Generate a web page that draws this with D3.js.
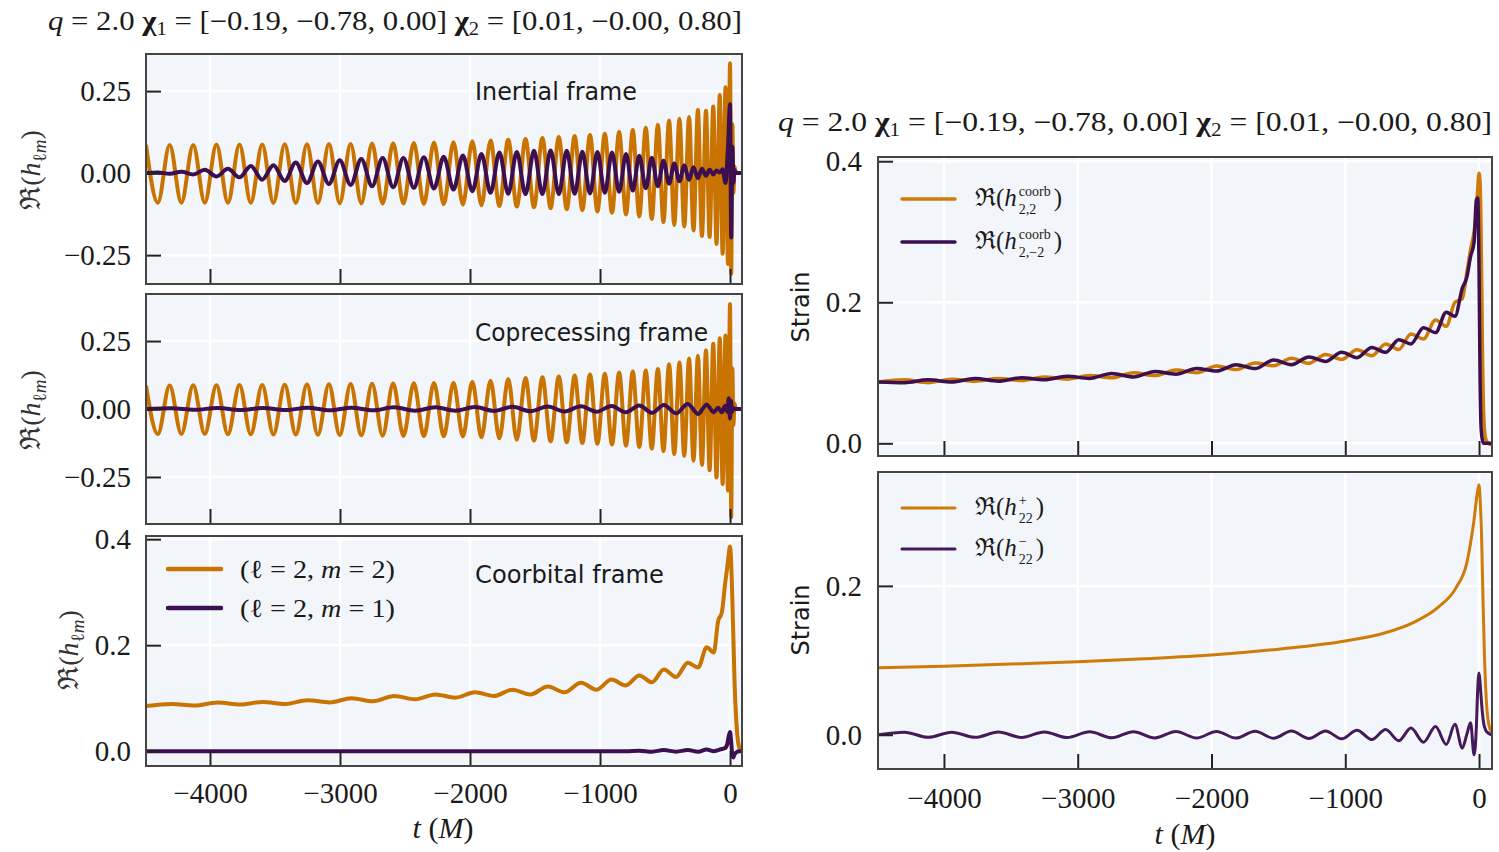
<!DOCTYPE html>
<meta charset="utf-8">
<style>
body { margin: 0; background: #fff; }
svg text { fill: #1a1a1a; }
.serif { font-family: "Liberation Serif", "DejaVu Serif", serif; }
.sans { font-family: "DejaVu Sans", sans-serif; }
.axis text { font-family: "Liberation Serif", "DejaVu Serif", serif; font-size: 29px; fill: #1a1a1a; }
.axis line { stroke: #222; stroke-width: 2px; }
.axis path { display: none; }
</style>
<body>
<script src="https://cdn.jsdelivr.net/npm/d3@7/dist/d3.min.js"></script>
<script>

// ---------- data ----------
var q = "2.0";
var chi1 = ["\u22120.19", "\u22120.78", "0.00"];
var chi2 = ["0.01", "\u22120.00", "0.80"];
var xTicks = [-4000, -3000, -2000, -1000, 0];

// times (M) of the extrema of the (2,2) oscillation, inertial / coprecessing frames
var tGW = [-4492, -4401, -4310, -4220, -4129, -4040, -3950, -3862, -3773, -3686,
           -3598, -3512, -3425, -3340, -3254, -3170, -3085, -3002, -2918, -2836,
           -2753, -2672, -2591, -2512, -2432, -2355, -2277, -2202, -2127, -2055,
           -1982, -1912, -1842, -1774, -1706, -1640, -1573, -1508, -1443, -1380,
           -1317, -1256, -1195, -1136, -1077, -1020, -963, -908, -853, -800,
           -748, -698, -648, -602, -555, -512, -469, -429, -389, -352,
           -315, -281, -247, -216, -185, -157, -129, -104, -79, -57,
           -35, -16, 0, 9, 18, 26, 34, 45, 60, 92];

var inertial22 = [0.086, -0.090, 0.086, -0.090, 0.086, -0.090, 0.087, -0.090, 0.087, -0.090,
                  0.087, -0.091, 0.088, -0.091, 0.088, -0.091, 0.089, -0.092, 0.089, -0.092,
                  0.090, -0.093, 0.091, -0.093, 0.092, -0.094, 0.093, -0.095, 0.094, -0.096,
                  0.097, -0.098, 0.099, -0.100, 0.102, -0.102, 0.104, -0.104, 0.107, -0.107,
                  0.110, -0.110, 0.113, -0.113, 0.116, -0.117, 0.120, -0.121, 0.125, -0.126,
                  0.131, -0.132, 0.138, -0.140, 0.147, -0.150, 0.160, -0.158, 0.166, -0.163,
                  0.171, -0.175, 0.192, -0.192, 0.190, -0.195, 0.203, -0.216, 0.238, -0.246,
                  0.262, -0.277, 0.335, -0.307, 0.150, -0.060, 0.020, 0.000, 0.000, 0.000];

var inertial21 = [0.000, 0.002, -0.002, 0.004, -0.004, 0.010, -0.010, 0.013, -0.013, 0.022,
                  -0.020, 0.024, -0.024, 0.032, -0.030, 0.035, -0.033, 0.039, -0.036, 0.043,
                  -0.040, 0.046, -0.043, 0.046, -0.045, 0.048, -0.047, 0.050, -0.050, 0.054,
                  -0.055, 0.058, -0.060, 0.063, -0.063, 0.064, -0.064, 0.068, -0.064, 0.069,
                  -0.064, 0.068, -0.063, 0.065, -0.062, 0.064, -0.060, 0.063, -0.057, 0.058,
                  -0.053, 0.053, -0.046, 0.047, -0.040, 0.038, -0.032, 0.029, -0.025, 0.023,
                  -0.020, 0.018, -0.015, 0.013, -0.008, 0.010, -0.004, 0.008, 0.002, 0.012,
                  -0.030, 0.080, 0.210, -0.196, 0.080, -0.030, 0.010, 0.000, 0.000, 0.000];

var copre22 = [0.086, -0.092, 0.086, -0.092, 0.087, -0.092, 0.087, -0.093, 0.088, -0.093,
               0.088, -0.094, 0.089, -0.094, 0.090, -0.095, 0.091, -0.096, 0.092, -0.097,
               0.093, -0.098, 0.094, -0.099, 0.095, -0.100, 0.096, -0.100, 0.097, -0.101,
               0.100, -0.104, 0.104, -0.108, 0.110, -0.113, 0.114, -0.116, 0.117, -0.119,
               0.120, -0.122, 0.123, -0.125, 0.127, -0.128, 0.130, -0.131, 0.134, -0.135,
               0.138, -0.140, 0.142, -0.146, 0.147, -0.155, 0.165, -0.166, 0.171, -0.172,
               0.186, -0.190, 0.196, -0.205, 0.215, -0.225, 0.240, -0.252, 0.260, -0.276,
               0.270, -0.300, 0.386, -0.398, 0.150, -0.060, 0.020, 0.000, 0.000, 0.000];

// times (M) of the slow (orbital) wiggles, and of the merger / ringdown samples
var tWig = [-4492, -4295, -4118, -3942, -3767, -3593, -3420, -3249, -3079, -2911,
            -2746, -2583, -2423, -2266, -2112, -1962, -1816, -1674, -1536, -1402,
            -1272, -1147, -1027, -912, -802, -698, -600, -509, -415, -325,
            -245, -180, -125];
var tTail = [-92, -63, -37, -20, -10, 0, 8, 16, 25, 35, 50, 70, 95];

var copre21 = [0.000, 0.003, -0.003, 0.004, -0.004, 0.004, -0.004, 0.005, -0.005, 0.005,
               -0.005, 0.006, -0.006, 0.006, -0.006, 0.007, -0.007, 0.008, -0.008, 0.009,
               -0.009, 0.010, -0.010, 0.011, -0.012, 0.013, -0.014, 0.015, -0.016, 0.018,
               -0.018, 0.016, -0.012];
var copre21Tail = [0.005, -0.012, 0.012, -0.010, 0.040, -0.035, 0.030, -0.010, 0.004, 0.000, 0.000, 0.000, 0.000];

var coorb22 = [0.085, 0.089, 0.086, 0.092, 0.088, 0.093, 0.089, 0.096, 0.092, 0.100,
               0.094, 0.104, 0.098, 0.107, 0.101, 0.111, 0.104, 0.116, 0.107, 0.122,
               0.111, 0.129, 0.116, 0.135, 0.124, 0.143, 0.130, 0.154, 0.140, 0.167,
               0.158, 0.196, 0.186];
var coorb22Tail = [0.245, 0.262, 0.318, 0.350, 0.372, 0.386, 0.360, 0.300, 0.220, 0.130, 0.050, 0.008, 0.000];

var coorb21 = [0.000, 0.000, 0.000, 0.000, 0.000, 0.000, 0.000, 0.000, 0.000, 0.000,
               0.000, 0.000, 0.000, 0.000, 0.000, 0.000, 0.000, 0.000, 0.000, 0.000,
               0.000, 0.000, 0.000, 0.000, 0.000, 0.001, -0.001, 0.002, -0.001, 0.002,
               -0.001, 0.003, 0.000];
var coorb21Tail = [0.002, 0.004, 0.006, 0.015, 0.028, 0.036, 0.020, -0.005, -0.012, -0.006, -0.002, 0.000, 0.000];

var hc22 = [0.087, 0.090, 0.086, 0.091, 0.088, 0.092, 0.089, 0.094, 0.091, 0.096,
            0.093, 0.100, 0.096, 0.104, 0.100, 0.1095, 0.1045, 0.114, 0.110, 0.1205,
            0.1135, 0.126, 0.119, 0.1325, 0.124, 0.141, 0.133, 0.155, 0.148, 0.175,
            0.166, 0.200, 0.205];
var hc22Tail = [0.241, 0.275, 0.300, 0.330, 0.360, 0.383, 0.370, 0.290, 0.140, 0.040, 0.006, 0.000, -0.002];

var hc2m2 = [0.087, 0.086, 0.090, 0.087, 0.092, 0.088, 0.093, 0.090, 0.095, 0.092,
             0.099, 0.094, 0.102, 0.098, 0.106, 0.1025, 0.1115, 0.106, 0.118, 0.1115,
             0.1225, 0.116, 0.129, 0.1215, 0.136, 0.129, 0.147, 0.141, 0.164, 0.157,
             0.186, 0.180, 0.220];
var hc2m2Tail = [0.235, 0.265, 0.285, 0.345, 0.348, 0.250, 0.090, 0.020, 0.005, 0.000, 0.000, 0.000, 0.000];

var tPlus = [-4492, -4000, -3500, -3000, -2500, -2000, -1500, -1000, -700, -500, -300, -170,
             -90, -40, -10, 0, 10, 20, 30, 40, 55, 75, 95];
var hPlus = [0.090, 0.092, 0.095, 0.098, 0.102, 0.107, 0.115, 0.126, 0.137, 0.150, 0.172, 0.198,
             0.232, 0.285, 0.328, 0.336, 0.310, 0.260, 0.180, 0.110, 0.045, 0.012, 0.003];

var hMinus = [0.000, 0.0035, -0.0035, 0.0035, -0.0035, 0.0036, -0.0036, 0.0038, -0.0038, 0.004,
              -0.004, 0.0042, -0.0042, 0.0044, -0.0044, 0.0045, -0.0045, 0.0047, -0.0047, 0.005,
              -0.005, 0.0052, -0.0055, 0.006, -0.0065, 0.007, -0.008, 0.009, -0.010, 0.011,
              -0.013, 0.014, -0.018];
var hMinusTail = [0.000, 0.016, -0.027, 0.010, 0.060, 0.083, 0.070, 0.050, 0.030, 0.015, 0.006, 0.002, 0.000];

// ---------- drawing ----------
var orange = "#c97300", purple = "#3b0f50";

function zip(ts, vs) { return ts.map(function(t, i) { return [t, vs[i]]; }); }

var svg = d3.select("body").append("svg").attr("width", 1499).attr("height", 852);

var fmt2 = function(d) { return (d < 0 ? "\u2212" : "") + Math.abs(d).toFixed(2); };
var fmt1 = function(d) { return (d < 0 ? "\u2212" : "") + Math.abs(d).toFixed(1); };
var fmtX = function(d) { return (d < 0 ? "\u2212" : "") + Math.abs(d); };

var nClip = 0;
function panel(p) {
  var x = d3.scaleLinear().domain(p.xd).range([p.x0, p.x1]);
  var y = d3.scaleLinear().domain(p.yd).range([p.y1, p.y0]);
  var g = svg.append("g");

  g.append("rect")
      .attr("x", p.x0).attr("y", p.y0)
      .attr("width", p.x1 - p.x0).attr("height", p.y1 - p.y0)
      .attr("fill", "#f2f6fb");

  // white grid
  g.selectAll(null).data(xTicks).enter().append("line")
      .attr("x1", function(d) { return x(d); }).attr("x2", function(d) { return x(d); })
      .attr("y1", p.y0).attr("y2", p.y1)
      .attr("stroke", "#fff").attr("stroke-width", 2.5);
  g.selectAll(null).data(p.yt).enter().append("line")
      .attr("y1", function(d) { return y(d); }).attr("y2", function(d) { return y(d); })
      .attr("x1", p.x0).attr("x2", p.x1)
      .attr("stroke", "#fff").attr("stroke-width", 2.5);

  var id = "clip" + (nClip++);
  svg.append("clipPath").attr("id", id).append("rect")
      .attr("x", p.x0).attr("y", p.y0)
      .attr("width", p.x1 - p.x0).attr("height", p.y1 - p.y0);

  var line = d3.line()
      .x(function(d) { return x(d[0]); })
      .y(function(d) { return y(d[1]); })
      .curve(d3.curveMonotoneX);

  p.series.forEach(function(s) {
    g.append("path")
        .datum(s.pts)
        .attr("clip-path", "url(#" + id + ")")
        .attr("fill", "none")
        .attr("stroke", s.color)
        .attr("stroke-width", s.w)
        .attr("stroke-linejoin", "round")
        .attr("d", line);
  });

  // axes, ticks pointing inwards
  g.append("g")
      .attr("class", "axis")
      .attr("transform", "translate(0," + p.y1 + ")")
      .call(d3.axisBottom(x).tickValues(xTicks).tickSize(-15).tickPadding(p.xpad)
            .tickFormat(p.xlab ? fmtX : function() { return ""; }));
  g.append("g")
      .attr("class", "axis")
      .attr("transform", "translate(" + p.x0 + ",0)")
      .call(d3.axisLeft(y).tickValues(p.yt).tickSize(-15).tickPadding(p.ypad).tickFormat(p.yfmt));

  g.append("rect")
      .attr("x", p.x0).attr("y", p.y0)
      .attr("width", p.x1 - p.x0).attr("height", p.y1 - p.y0)
      .attr("fill", "none").attr("stroke", "#444").attr("stroke-width", 2);
  return { x: x, y: y };
}

var L = { x0: 146, x1: 742, xd: [-4492, 92], xpad: 16, ypad: 15 };
var R = { x0: 878, x1: 1492, xd: [-4493, 97], xpad: 18, ypad: 16 };

panel(Object.assign({}, L, {
  y0: 54, y1: 284, yd: [-0.338, 0.363], yt: [-0.25, 0, 0.25], yfmt: fmt2, xlab: false,
  series: [
    { pts: zip(tGW, inertial22), color: orange, w: 4 },
    { pts: zip(tGW, inertial21), color: purple, w: 4 }
  ]
}));

panel(Object.assign({}, L, {
  y0: 294, y1: 524, yd: [-0.423, 0.423], yt: [-0.25, 0, 0.25], yfmt: fmt2, xlab: false,
  series: [
    { pts: zip(tGW, copre22), color: orange, w: 4 },
    { pts: zip(tWig, copre21).concat(zip(tTail, copre21Tail)), color: purple, w: 4 }
  ]
}));

panel(Object.assign({}, L, {
  y0: 536, y1: 766, yd: [-0.028, 0.406], yt: [0, 0.2, 0.4], yfmt: fmt1, xlab: true,
  series: [
    { pts: zip(tWig, coorb22).concat(zip(tTail, coorb22Tail)), color: orange, w: 4 },
    { pts: zip(tWig, coorb21).concat(zip(tTail, coorb21Tail)), color: purple, w: 4 }
  ]
}));

panel(Object.assign({}, R, {
  y0: 157, y1: 456, yd: [-0.018, 0.406], yt: [0, 0.2, 0.4], yfmt: fmt1, xlab: false,
  series: [
    { pts: zip(tWig, hc22).concat(zip(tTail, hc22Tail)), color: "#cf7b08", w: 3.5 },
    { pts: zip(tWig, hc2m2).concat(zip(tTail, hc2m2Tail)), color: purple, w: 3.5 }
  ]
}));

panel(Object.assign({}, R, {
  y0: 472, y1: 769, yd: [-0.046, 0.353], yt: [0, 0.2], yfmt: fmt1, xlab: true,
  series: [
    { pts: zip(tPlus, hPlus), color: "#cf7b08", w: 3 },
    { pts: zip(tWig, hMinus).concat(zip(tTail, hMinusTail)), color: "#45195a", w: 3 }
  ]
}));

// ---------- titles ----------
function title(x, y, len) {
  var t = svg.append("text").attr("class", "serif").attr("x", x).attr("y", y)
      .style("font-size", "27px").attr("textLength", len).attr("lengthAdjust", "spacingAndGlyphs");
  t.append("tspan").style("font-style", "italic").text("q");
  t.append("tspan").text(" = " + q + " ");
  t.append("tspan").style("font-weight", "bold").text("\u03c7");
  t.append("tspan").style("font-size", "18px").attr("dy", 5).text("1");
  t.append("tspan").attr("dy", -5).text(" = [" + chi1.join(", ") + "] ");
  t.append("tspan").style("font-weight", "bold").text("\u03c7");
  t.append("tspan").style("font-size", "18px").attr("dy", 5).text("2");
  t.append("tspan").attr("dy", -5).text(" = [" + chi2.join(", ") + "]");
}
title(48, 30, 694);
title(778, 131, 714);

// frame labels
[["Inertial frame", 100, 162], ["Coprecessing frame", 341, 233], ["Coorbital frame", 583, 189]]
  .forEach(function(d) {
    svg.append("text").attr("class", "sans").attr("x", 475).attr("y", d[1])
        .style("font-size", "25px").attr("textLength", d[2]).attr("lengthAdjust", "spacingAndGlyphs")
        .text(d[0]);
  });

// y labels, left
function reLabel(bx, cy) {
  var t = svg.append("text").attr("class", "serif")
      .attr("transform", "translate(" + bx + "," + cy + ") rotate(-90)")
      .attr("text-anchor", "middle").style("font-size", "28px").style("fill", "#333");
  t.append("tspan").text("\u211c(");
  t.append("tspan").style("font-style", "italic").text("h");
  t.append("tspan").style("font-size", "19px").attr("dy", 6).text("\u2113");
  t.append("tspan").style("font-size", "19px").style("font-style", "italic").text("m");
  t.append("tspan").attr("dy", -6).text(")");
}
reLabel(40, 170);
reLabel(40, 410);
reLabel(78, 650);

// y labels, right
[307, 620].forEach(function(cy) {
  svg.append("text").attr("class", "sans")
      .attr("transform", "translate(809," + cy + ") rotate(-90)")
      .attr("text-anchor", "middle").style("font-size", "24px").text("Strain");
});

// x labels
function tLabel(cx, y) {
  var t = svg.append("text").attr("class", "serif").attr("x", cx).attr("y", y)
      .attr("text-anchor", "middle").style("font-size", "30px");
  t.append("tspan").style("font-style", "italic").text("t");
  t.append("tspan").text(" (");
  t.append("tspan").style("font-style", "italic").text("M");
  t.append("tspan").text(")");
}
tLabel(443, 838);
tLabel(1185, 844);

// ---------- legends ----------
function legLine(x1, x2, y, color, w) {
  svg.append("line").attr("x1", x1).attr("x2", x2).attr("y1", y).attr("y2", y)
      .attr("stroke", color).attr("stroke-width", w).attr("stroke-linecap", "round");
}
legLine(168, 221, 569, orange, 4.5);
legLine(168, 221, 608, purple, 4.5);
[["2", 578], ["1", 617]].forEach(function(d) {
  var t = svg.append("text").attr("class", "serif").attr("x", 240).attr("y", d[1])
      .style("font-size", "26px").attr("textLength", 155).attr("lengthAdjust", "spacingAndGlyphs");
  t.append("tspan").text("(\u2113 = 2, ");
  t.append("tspan").style("font-style", "italic").text("m");
  t.append("tspan").text(" = " + d[0] + ")");
});

// h with a superscript stacked over a subscript, as separate pieces
function hLabel(x, y, sup, sub) {
  var size = 25;
  var g = svg.append("g").attr("class", "serif");
  var a = g.append("text").attr("x", x).attr("y", y).style("font-size", size + "px");
  a.append("tspan").text("\u211c(");
  a.append("tspan").style("font-style", "italic").text("h");
  var w = a.node().getComputedTextLength();
  var s1 = g.append("text").attr("x", x + w + 2).attr("y", y - 10).style("font-size", "14px").text(sup);
  var s2 = g.append("text").attr("x", x + w + 2).attr("y", y + 8).style("font-size", "14px").text(sub);
  var w2 = Math.max(s1.node().getComputedTextLength(), s2.node().getComputedTextLength());
  g.append("text").attr("x", x + w + w2 + 5).attr("y", y).style("font-size", size + "px").text(")");
}
legLine(902, 955, 199, "#cf7b08", 3.5);
legLine(902, 955, 242, purple, 3.5);
hLabel(975, 206, "coorb", "2,2");
hLabel(975, 249, "coorb", "2,\u22122");

legLine(902, 955, 508, "#cf7b08", 3);
legLine(902, 955, 549, "#45195a", 3);
hLabel(975, 515, "+", "22");
hLabel(975, 556, "\u2212", "22");

</script>
</body>
